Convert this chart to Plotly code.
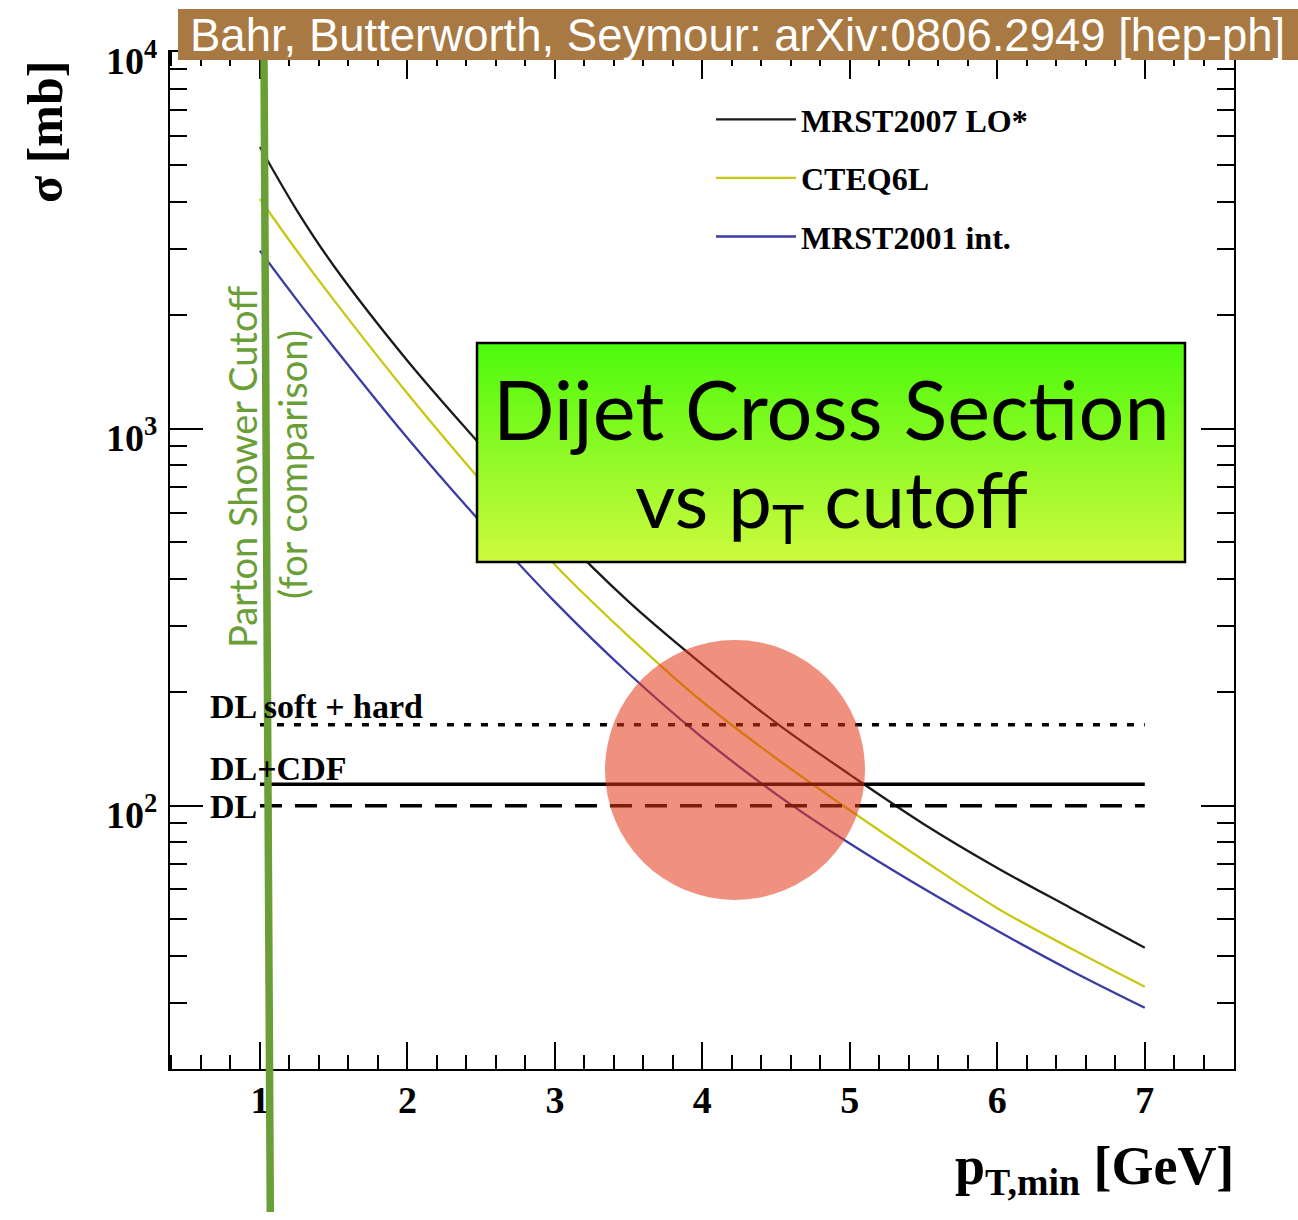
import plotly.graph_objects as go

# ---------------- data ----------------
pt_min = [1.0, 1.25, 1.5, 2.0, 2.5, 3.0, 3.5, 4.0, 4.5, 5.0, 5.5, 6.0, 6.5, 7.0]
sigma_mrst2007 = [5598, 3802, 2710, 1517, 902, 543, 348, 237, 166, 121, 89.5, 68.4, 53.5, 42.0]
sigma_cteq6l = [4074, 2969, 2200, 1242, 727, 436, 281.6, 188.8, 133.7, 97.3, 71.7, 53.5, 41.8, 33.1]
sigma_mrst2001 = [2969, 2200, 1650, 946, 564, 347.5, 224.4, 151.7, 107.4, 79.4, 60.3, 46.6, 36.5, 29.1]
series_names = ["MRST2007 LO*", "CTEQ6L", "MRST2001 int."]

dl_names = ["DL soft + hard", "DL+CDF", "DL"]
dl_values = [164, 114, 100]
dl_x = [1, 7]

x_tickvals = [1, 2, 3, 4, 5, 6, 7]
y_tickvals = [100, 1000, 10000]
y_ticktext = ["10<sup>2</sup>", "10<sup>3</sup>", "10<sup>4</sup>"]

# ---------------- styling ----------------
SERIF = "Liberation Serif"
SANS = "Liberation Sans"
HUMAN = "Lato"
series_colors = ["#1a1a1a", "#c8c814", "#3b3ba6"]
dl_dash = ["7px,10px", "solid", "22px,13px"]
GREEN = "#6a9e36"

W, H = 1298, 1220
L, R, T, B = 170, 64, 52, 151
PW, PH = W - L - R, H - T - B


def px(xpix):
    return (xpix - L) / PW


def py(ypix):
    return (H - B - ypix) / PH


fig = go.Figure()

series = [sigma_mrst2007, sigma_cteq6l, sigma_mrst2001]
for i, (name, ys) in enumerate(zip(series_names, series)):
    fig.add_trace(go.Scatter(
        x=pt_min, y=ys, mode="lines", name=name,
        line=dict(color=series_colors[i], width=2.3, shape="spline", smoothing=1.0),
        legendgroup=f"g{i}", showlegend=True, hoverinfo="skip"))

for name, v, d in zip(dl_names, dl_values, dl_dash):
    fig.add_trace(go.Scatter(
        x=dl_x, y=[v, v], mode="lines", name=name,
        line=dict(color="black", width=3.5, dash=d),
        showlegend=False, hoverinfo="skip"))

shapes = []
# gradient text box
x0b, x1b = px(477), px(1185)
ytop, ybot = 343, 562
n = 40
c_top = (76, 250, 12)
c_bot = (206, 250, 62)
for k in range(n):
    t0 = k / n
    t1 = (k + 1) / n
    tm = (k + 0.5) / n
    col = tuple(int(round(c_top[j] + (c_bot[j] - c_top[j]) * tm)) for j in range(3))
    shapes.append(dict(type="rect", xref="paper", yref="paper",
                       x0=x0b, x1=x1b,
                       y0=py(ytop + (ybot - ytop) * t1) - 0.0005,
                       y1=py(ytop + (ybot - ytop) * t0) + 0.0005,
                       fillcolor="rgb(%d,%d,%d)" % col, line=dict(width=0),
                       layer="above"))
shapes.append(dict(type="rect", xref="paper", yref="paper",
                   x0=x0b, x1=x1b, y0=py(ybot), y1=py(ytop),
                   line=dict(color="black", width=2.5), layer="above"))
# translucent circle
shapes.append(dict(type="circle", xref="paper", yref="paper",
                   x0=px(605), x1=px(865), y0=py(900), y1=py(640),
                   fillcolor="rgba(228,53,20,0.55)", line=dict(width=0),
                   layer="above"))
# green cutoff line
shapes.append(dict(type="line", xref="paper", yref="paper",
                   x0=px(264), y0=py(58), x1=px(270.3), y1=py(1212),
                   line=dict(color=GREEN, width=7.5), layer="above"))
# brown banner
shapes.append(dict(type="rect", xref="paper", yref="paper",
                   x0=px(178), x1=px(1300), y0=py(60), y1=py(9),
                   fillcolor="#a87942", line=dict(width=0), layer="above"))

annotations = [
    dict(text="Bahr, Butterworth, Seymour: arXiv:0806.2949 [hep-ph]",
         xref="paper", yref="paper", x=px(737), y=py(36),
         xanchor="center", yanchor="middle", showarrow=False,
         font=dict(family=SANS, size=45.5, color="white")),
    dict(text="Dijet Cross Section", xref="paper", yref="paper",
         x=px(831), y=py(409), xanchor="center", yanchor="middle",
         showarrow=False, font=dict(family=HUMAN, size=81, color="black")),
    dict(text="vs p<sub>T</sub> cutoff", xref="paper", yref="paper",
         x=px(831), y=py(503), xanchor="center", yanchor="middle",
         showarrow=False, font=dict(family=HUMAN, size=78, color="black")),
    dict(text="Parton Shower Cutoff", xref="paper", yref="paper",
         x=px(242), y=py(467), xanchor="center", yanchor="middle",
         textangle=-90, showarrow=False,
         font=dict(family=HUMAN, size=38, color=GREEN)),
    dict(text="(for comparison)", xref="paper", yref="paper",
         x=px(292), y=py(465), xanchor="center", yanchor="middle",
         textangle=-90, showarrow=False,
         font=dict(family=HUMAN, size=38, color=GREEN)),
    dict(text="σ [mb]", xref="paper", yref="paper",
         x=px(45), y=py(132), xanchor="center", yanchor="middle",
         textangle=-90, showarrow=False,
         font=dict(family=SERIF, size=50, color="black", weight="bold")),
    dict(text="p<sub>T,min</sub> [GeV]", xref="paper", yref="paper",
         x=px(1236), y=py(1170), xanchor="right", yanchor="middle",
         showarrow=False,
         font=dict(family=SERIF, size=54, color="black", weight="bold")),
]
dl_label_y = [707, 768, 806]
for name, yy in zip(dl_names, dl_label_y):
    annotations.append(dict(text=name, xref="paper", yref="paper",
                            x=px(208), y=py(yy), xanchor="left", yanchor="middle",
                            showarrow=False,
                            font=dict(family=SERIF, size=34, color="black", weight="bold")))

fig.update_layout(
    width=W, height=H, autosize=False,
    margin=dict(l=L, r=R, t=T, b=B, pad=0),
    paper_bgcolor="white", plot_bgcolor="white",
    shapes=shapes, annotations=annotations,
    showlegend=True,
    legend=dict(x=px(711), y=py(92), xanchor="left", yanchor="top",
                bgcolor="rgba(0,0,0,0)", borderwidth=0,
                itemwidth=80, tracegroupgap=14,
                font=dict(family=SERIF, size=32, color="black", weight="bold")),
    xaxis=dict(range=[0.39, 7.605], tickmode="array", tickvals=x_tickvals,
               ticks="inside", ticklen=27, tickwidth=2, tickcolor="black",
               showline=True, linecolor="black", linewidth=2, mirror="ticks",
               showgrid=False, zeroline=False,
               minor=dict(dtick=0.2, tick0=0, ticks="inside", ticklen=14,
                          tickwidth=2, tickcolor="black", showgrid=False),
               tickfont=dict(family=SERIF, size=38, color="black", weight="bold"),
               ticklabelstandoff=-4),
    yaxis=dict(type="log", range=[1.3016, 4.0], tickmode="array",
               tickvals=y_tickvals, ticktext=y_ticktext,
               ticks="inside", ticklen=33, tickwidth=2, tickcolor="black",
               showline=True, linecolor="black", linewidth=2, mirror="ticks",
               showgrid=False, zeroline=False,
               minor=dict(dtick="D1", ticks="inside", ticklen=17,
                          tickwidth=2, tickcolor="black", showgrid=False),
               tickfont=dict(family=SERIF, size=38, color="black", weight="bold"),
               ticklabelstandoff=3, ticklabelshift=9),
)

fig.write_html("out.html", config={"displayModeBar": False})
